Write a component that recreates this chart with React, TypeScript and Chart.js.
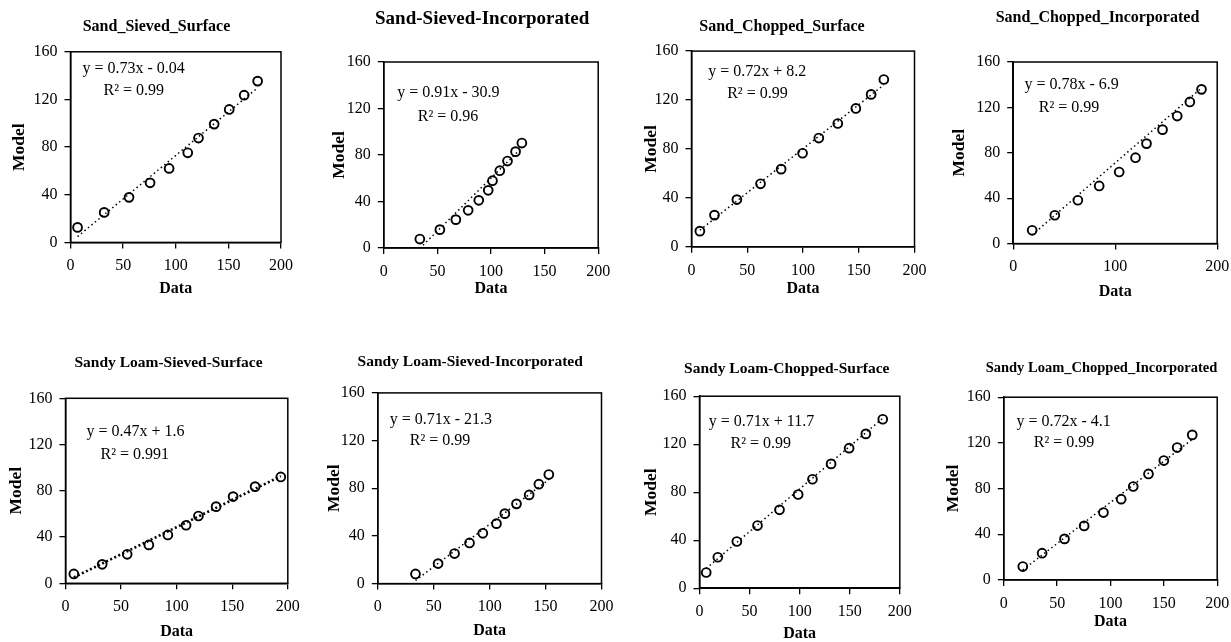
import React, { useEffect, useRef } from "react";
import { Chart, registerables } from "chart.js";

Chart.register(...registerables);

// ---------- DATA ----------
const sandSievedSurfaceData = [6.7, 32, 55.6, 75.6, 93.7, 111.4, 121.6, 136.5, 150.8, 165, 177.8];
const sandSievedSurfaceModel = [12.6, 25.2, 37.8, 50, 62.1, 75.2, 87.6, 99.3, 111.6, 123.6, 135.4];

const sandSievedIncorporatedData = [33.6, 52.3, 67.2, 78.7, 88.6, 97.4, 101.4, 108.2, 115.4, 122.9, 128.8];
const sandSievedIncorporatedModel = [7.7, 15.8, 24.4, 32.4, 41, 49.6, 57.9, 66.5, 74.8, 82.9, 90.3];

const sandChoppedSurfaceData = [7.5, 20.6, 40.7, 61.9, 80.4, 99.6, 114.2, 131.2, 147.4, 161.1, 172.5];
const sandChoppedSurfaceModel = [12.8, 25.9, 38.6, 51.5, 63.5, 76.5, 88.9, 100.8, 113.1, 124.6, 136.8];

const sandChoppedIncorporatedData = [18.6, 40.8, 63.4, 84.3, 103.9, 119.9, 130.7, 146.4, 160.8, 173.2, 184.6];
const sandChoppedIncorporatedModel = [11.7, 25, 38.2, 50.8, 63.1, 75.7, 88.1, 100.4, 112.4, 124.8, 135.9];

const loamSievedSurfaceData = [7.5, 33, 55.5, 75, 92.1, 108.5, 119.6, 135.5, 150.8, 170.6, 193.7];
const loamSievedSurfaceModel = [8.1, 16.4, 25.1, 33.2, 41.8, 50.2, 58.2, 66.3, 75, 83.6, 92];

const loamSievedIncorporatedData = [33.7, 53.9, 68.6, 82, 93.9, 106.1, 113.6, 124, 135.3, 144, 152.9];
const loamSievedIncorporatedModel = [8.1, 16.8, 25.2, 34.1, 42.2, 50.3, 58.7, 66.9, 74.4, 83.4, 91.5];

const loamChoppedSurfaceData = [6.7, 18.3, 37.3, 57.9, 79.9, 98.5, 112.8, 131.4, 149.4, 166.1, 183];
const loamChoppedSurfaceModel = [13.1, 25.8, 38.9, 52.2, 65.3, 78.1, 90.8, 103.6, 116.7, 128.6, 140.8];

const loamChoppedIncorporatedData = [17.8, 35.9, 56.9, 75.3, 93.4, 110, 121.3, 135.6, 150, 162.5, 176.6];
const loamChoppedIncorporatedModel = [11.7, 23.4, 35.9, 47.3, 59, 70.7, 81.8, 92.8, 104.5, 115.9, 127];

const panelTitles = [
  "Sand_Sieved_Surface",
  "Sand-Sieved-Incorporated",
  "Sand_Chopped_Surface",
  "Sand_Chopped_Incorporated",
  "Sandy Loam-Sieved-Surface",
  "Sandy Loam-Sieved-Incorporated",
  "Sandy Loam-Chopped-Surface",
  "Sandy Loam_Chopped_Incorporated",
];

const equationLabels = [
  "y = 0.73x - 0.04",
  "y = 0.91x - 30.9",
  "y = 0.72x + 8.2",
  "y = 0.78x - 6.9",
  "y = 0.47x + 1.6",
  "y = 0.71x - 21.3",
  "y = 0.71x + 11.7",
  "y = 0.72x - 4.1",
];
const r2Labels = ["R² = 0.99", "R² = 0.96", "R² = 0.99", "R² = 0.99", "R² = 0.991", "R² = 0.99", "R² = 0.99", "R² = 0.99"];

const trendSlopes = [0.73, 0.91, 0.72, 0.78, 0.47, 0.71, 0.71, 0.72];
const trendIntercepts = [-0.04, -30.9, 8.2, -6.9, 1.6, -21.3, 11.7, -4.1];

const xTickSteps = [50, 50, 50, 100, 50, 50, 50, 50];
const xAxisMax = 200;
const yAxisMax = 160;
const yTickStep = 40;
const xAxisLabel = "Data";
const yAxisLabel = "Model";

const seriesX = [
  sandSievedSurfaceData, sandSievedIncorporatedData, sandChoppedSurfaceData, sandChoppedIncorporatedData,
  loamSievedSurfaceData, loamSievedIncorporatedData, loamChoppedSurfaceData, loamChoppedIncorporatedData,
];
const seriesY = [
  sandSievedSurfaceModel, sandSievedIncorporatedModel, sandChoppedSurfaceModel, sandChoppedIncorporatedModel,
  loamSievedSurfaceModel, loamSievedIncorporatedModel, loamChoppedSurfaceModel, loamChoppedIncorporatedModel,
];

// ---------- LAYOUT (page geometry of each panel) ----------
const GEOM = [
  { titleX: 156, titleY: 26.5, plotL: 70, plotR: 280.5, plotT: 51.7, plotB: 242.3, modelX: 19, dataY: 289, titleSize: 16, eq: [11.4, 146], r2: [31.4, 127.6], trendW: 1.5, dash: [1.5, 3] },
  { titleX: 481.7, titleY: 19.7, plotL: 383.3, plotR: 597.7, plotT: 62.3, plotB: 248.3, modelX: 339, dataY: 289, titleSize: 19, eq: [12.5, 133.3], r2: [31.7, 113.2], trendW: 1.5, dash: [1.5, 3] },
  { titleX: 781.5, titleY: 26.5, plotL: 691, plotR: 914, plotT: 51, plotB: 246.7, modelX: 651, dataY: 289, titleSize: 16, eq: [15, 143], r2: [32, 125.4], trendW: 1.5, dash: [1.5, 3] },
  { titleX: 1097, titleY: 17.3, plotL: 1012.7, plotR: 1216.7, plotT: 61.7, plotB: 243.3, modelX: 959, dataY: 292, titleSize: 16, eq: [11.1, 139.5], r2: [25.1, 119.8], trendW: 1.5, dash: [1.5, 3] },
  { titleX: 168, titleY: 363.3, plotL: 65, plotR: 287.3, plotT: 398.3, plotB: 583.3, modelX: 16, dataY: 631.7, titleSize: 15.5, eq: [18.9, 131.1], r2: [31.5, 111], trendW: 2.6, dash: [2, 2.5] },
  { titleX: 469.7, titleY: 362.7, plotL: 377.3, plotR: 601, plotT: 393.3, plotB: 584, modelX: 334, dataY: 631.7, titleSize: 15.5, eq: [10.7, 137.6], r2: [28.6, 119.4], trendW: 1.5, dash: [1.5, 3] },
  { titleX: 786.3, titleY: 368.8, plotL: 699, plotR: 899.3, plotT: 395.7, plotB: 587.7, modelX: 651, dataY: 633, titleSize: 15.5, eq: [9.3, 138.3], r2: [31, 120.3], trendW: 1.5, dash: [1.5, 3] },
  { titleX: 1101, titleY: 368.8, plotL: 1003.3, plotR: 1216.7, plotT: 397.3, plotB: 580, modelX: 953, dataY: 621.7, titleSize: 14.5, eq: [11.9, 138.6], r2: [28.1, 119.7], trendW: 1.5, dash: [1.5, 3] },
];

const SERIF = "'Liberation Serif', 'Times New Roman', serif";
const TICK_SIZE = 16;
const X_TITLE_SIZE = 16;
const Y_TITLE_SIZE = 17.5;
const EQ_SIZE = 16;

Chart.defaults.color = "#000";
Chart.defaults.font.family = SERIF;

const framePlugin = {
  id: "frameBox",
  afterDraw(chart: any) {
    const { ctx, chartArea } = chart;
    ctx.save();
    ctx.strokeStyle = "#000";
    ctx.lineWidth = 1.5;
    ctx.strokeRect(chartArea.left, chartArea.top, chartArea.right - chartArea.left, chartArea.bottom - chartArea.top);
    ctx.restore();
  },
};

function Panel({ idx }: { idx: number }) {
  const ref = useRef<HTMLCanvasElement | null>(null);
  const g = GEOM[idx];
  const lhT = g.titleSize * 1.2;
  const lhX = X_TITLE_SIZE * 1.2;
  const lhY = Y_TITLE_SIZE * 1.2;
  const CL = g.modelX - lhY / 2 - 3;
  // spacer on the right so that the full-width title is centred where the reference has it
  const spacerW = Math.max(0, 2 * g.titleX - CL - g.plotR);
  const padR = 20;
  const CW = Math.round(g.plotR - CL + spacerW + padR);
  const padRr = CW - (g.plotR - CL + spacerW);
  const CT = g.titleY - lhT / 2 - 4;
  const CB = g.dataY + lhX / 2 + 4;
  const CH = Math.round(CB - CT);
  const CBr = CT + CH;

  useEffect(() => {
    const xs = seriesX[idx];
    const ys = seriesY[idx];
    const xFirst = xs[0];
    const xLast = xs[xs.length - 1];
    const trend = [
      { x: xFirst, y: trendSlopes[idx] * xFirst + trendIntercepts[idx] },
      { x: xLast, y: trendSlopes[idx] * xLast + trendIntercepts[idx] },
    ];
    const eqPlugin = {
      id: "eqText" + idx,
      afterDatasetsDraw(chart: any) {
        const { ctx, scales } = chart;
        ctx.save();
        ctx.fillStyle = "#000";
        ctx.font = `${EQ_SIZE}px ${SERIF}`;
        ctx.textAlign = "left";
        ctx.textBaseline = "middle";
        ctx.fillText(equationLabels[idx], scales.x.getPixelForValue(g.eq[0]), scales.y.getPixelForValue(g.eq[1]));
        ctx.fillText(r2Labels[idx], scales.x.getPixelForValue(g.r2[0]), scales.y.getPixelForValue(g.r2[1]));
        ctx.restore();
      },
    };
    const chart = new Chart(ref.current as HTMLCanvasElement, {
      type: "scatter",
      data: {
        datasets: [
          {
            data: xs.map((x, i) => ({ x, y: ys[i] })),
            pointStyle: "circle",
            pointRadius: 4.4,
            pointBorderWidth: 1.9,
            pointBorderColor: "#000",
            pointBackgroundColor: "rgba(0,0,0,0)",
            borderColor: "#000",
            backgroundColor: "rgba(0,0,0,0)",
            order: 1,
          },
          {
            data: trend,
            showLine: true,
            borderColor: "#000",
            borderWidth: g.trendW,
            borderDash: g.dash,
            pointRadius: 0,
            fill: false,
            order: 2,
          } as any,
        ],
      },
      options: {
        responsive: false,
        animation: false,
        events: [],
        layout: { padding: { left: 0, right: padRr, top: 0, bottom: 0 } },
        plugins: {
          legend: { display: false },
          tooltip: { enabled: false },
          title: {
            display: true,
            text: panelTitles[idx],
            color: "#000",
            font: { family: SERIF, size: g.titleSize, weight: "bold", lineHeight: 1.2 },
            padding: { top: 4, bottom: g.plotT - (g.titleY + lhT / 2) },
          },
        },
        scales: {
          x: {
            type: "linear",
            min: 0,
            max: xAxisMax,
            ticks: { stepSize: xTickSteps[idx], color: "#000", font: { family: SERIF, size: TICK_SIZE }, padding: 8, maxRotation: 0, autoSkip: false },
            grid: { drawOnChartArea: false, drawTicks: true, tickLength: 6, color: "#000", lineWidth: 1.3 },
            border: { display: true, color: "#000", width: 1.5 },
            title: {
              display: true,
              text: xAxisLabel,
              color: "#000",
              font: { family: SERIF, size: X_TITLE_SIZE, weight: "bold", lineHeight: 1.2 },
              padding: { top: 0, bottom: CBr - g.dataY - lhX / 2 },
            },
            afterFit: (s: any) => {
              s.height = CBr - g.plotB;
            },
          },
          y: {
            type: "linear",
            position: "left",
            min: 0,
            max: yAxisMax,
            ticks: { stepSize: yTickStep, color: "#000", font: { family: SERIF, size: TICK_SIZE }, padding: 7 },
            grid: { drawOnChartArea: false, drawTicks: true, tickLength: 6, color: "#000", lineWidth: 1.3 },
            border: { display: true, color: "#000", width: 1.5 },
            title: {
              display: true,
              text: yAxisLabel,
              color: "#000",
              font: { family: SERIF, size: Y_TITLE_SIZE, weight: "bold", lineHeight: 1.2 },
              padding: { top: g.modelX - CL - lhY / 2, bottom: 0 },
            },
            afterFit: (s: any) => {
              s.width = g.plotL - CL;
            },
          },
          spacer: {
            type: "linear",
            position: "right",
            display: true,
            min: 0,
            max: 1,
            ticks: { display: false },
            grid: { display: false, drawTicks: false },
            border: { display: false },
            title: { display: false },
            afterFit: (s: any) => {
              s.width = spacerW;
            },
          },
        },
      } as any,
      plugins: [framePlugin, eqPlugin],
    });
    return () => chart.destroy();
  }, []);

  return (
    <canvas
      ref={ref}
      width={CW}
      height={CH}
      style={{ position: "absolute", left: CL, top: CT, width: CW, height: CH }}
    />
  );
}

export default function App() {
  return (
    <div
      style={{
        position: "absolute",
        left: 0,
        top: 0,
        width: 1231,
        height: 642,
        overflow: "hidden",
        background: "#fff",
      }}
    >
      {GEOM.map((_, i) => (
        <Panel key={i} idx={i} />
      ))}
    </div>
  );
}
